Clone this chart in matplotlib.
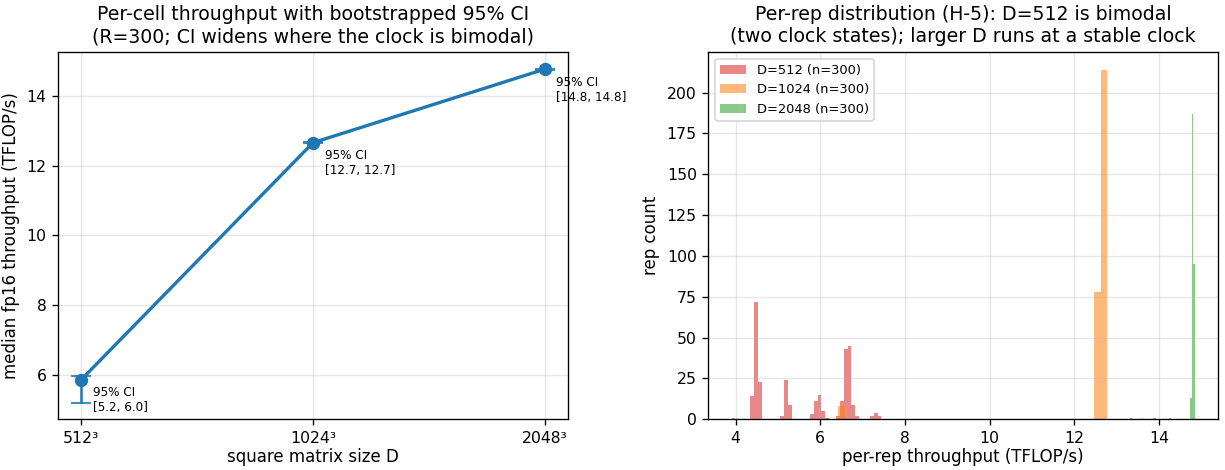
import numpy as np
import matplotlib
matplotlib.use("Agg")
import matplotlib.pyplot as plt

# left panel: per-cell median throughput with bootstrapped CI
sizes = ["512³", "1024³", "2048³"]
medians = [5.86, 12.66, 14.77]
ci_low = [5.20, 12.65, 14.76]
ci_high = [5.95, 12.68, 14.78]
ci_text = ["[5.2, 6.0]", "[12.7, 12.7]", "[14.8, 14.8]"]

# right panel: per-rep histograms (40 bins per series, own range each)
hist_labels = ["D=512 (n=300)", "D=1024 (n=300)", "D=2048 (n=300)"]
hist_ranges = [(3.906, 7.443), (6.417, 12.774), (13.316, 14.842)]
counts_512 = [1, 0, 0, 0, 0, 14, 72, 23, 0, 0,
              0, 0, 0, 2, 24, 9, 0, 0, 0, 0,
              0, 3, 11, 15, 5, 1, 0, 0, 2, 11,
              43, 45, 9, 2, 0, 0, 0, 2, 4, 2]
counts_1024 = [8, 0, 0, 0, 0, 0, 0, 0, 0, 0,
               0, 0, 0, 0, 0, 0, 0, 0, 0, 0,
               0, 0, 0, 0, 0, 0, 0, 0, 0, 0,
               0, 0, 0, 0, 0, 0, 0, 0, 78, 214]
counts_2048 = [1, 0, 0, 0, 0, 0, 0, 1, 0, 0,
               0, 0, 0, 0, 1, 1, 0, 0, 0, 0,
               0, 0, 0, 0, 1, 0, 0, 0, 0, 0,
               0, 0, 0, 0, 0, 0, 0, 13, 187, 95]
hist_counts = [counts_512, counts_1024, counts_2048]
hist_colors = ["tab:red", "tab:orange", "tab:green"]

plt.rcParams["xtick.labelsize"] = 9.4
plt.rcParams["ytick.labelsize"] = 9.4

fig, (ax1, ax2) = plt.subplots(1, 2, figsize=(1225 / 120, 470 / 120), dpi=120)
fig.subplots_adjust(left=0.0475, right=0.9943, bottom=0.108, top=0.889, wspace=0.276)

# --- left: medians with CI error bars
x = np.arange(len(sizes))
med = np.array(medians)
yerr = np.array([med - np.array(ci_low), np.array(ci_high) - med])
ax1.errorbar(x, med, yerr=yerr, color="tab:blue", marker="o", markersize=7,
             linewidth=2, capsize=6, elinewidth=1.5)
for xi, yi, t in zip(x, medians, ci_text):
    ax1.annotate("95% CI\n" + t, (xi, yi), xytext=(7, -4),
                 textcoords="offset points", ha="left", va="top", fontsize=7.2)
ax1.set_xticks(x)
ax1.set_xticklabels(sizes)
ax1.set_xlabel("square matrix size D", labelpad=1)
ax1.set_ylabel("median fp16 throughput (TFLOP/s)")
ax1.set_title("Per-cell throughput with bootstrapped 95% CI\n"
              "(R=300; CI widens where the clock is bimodal)", fontsize=11.3)
ax1.grid(True, alpha=0.3)

# --- right: histograms
for (lo, hi), cnt, lab, col in zip(hist_ranges, hist_counts, hist_labels, hist_colors):
    edges = np.linspace(lo, hi, len(cnt) + 1)
    centers = (edges[:-1] + edges[1:]) / 2
    ax2.hist(centers, bins=edges, weights=cnt, color=col, alpha=0.55, label=lab)
ax2.set_xlabel("per-rep throughput (TFLOP/s)", labelpad=1)
ax2.set_ylabel("rep count")
ax2.set_title("Per-rep distribution (H-5): D=512 is bimodal\n"
              "(two clock states); larger D runs at a stable clock", fontsize=11.3)
ax2.legend(loc="upper left", fontsize=7.8)
ax2.grid(True, alpha=0.3)

plt.savefig("out.png", dpi=120)
